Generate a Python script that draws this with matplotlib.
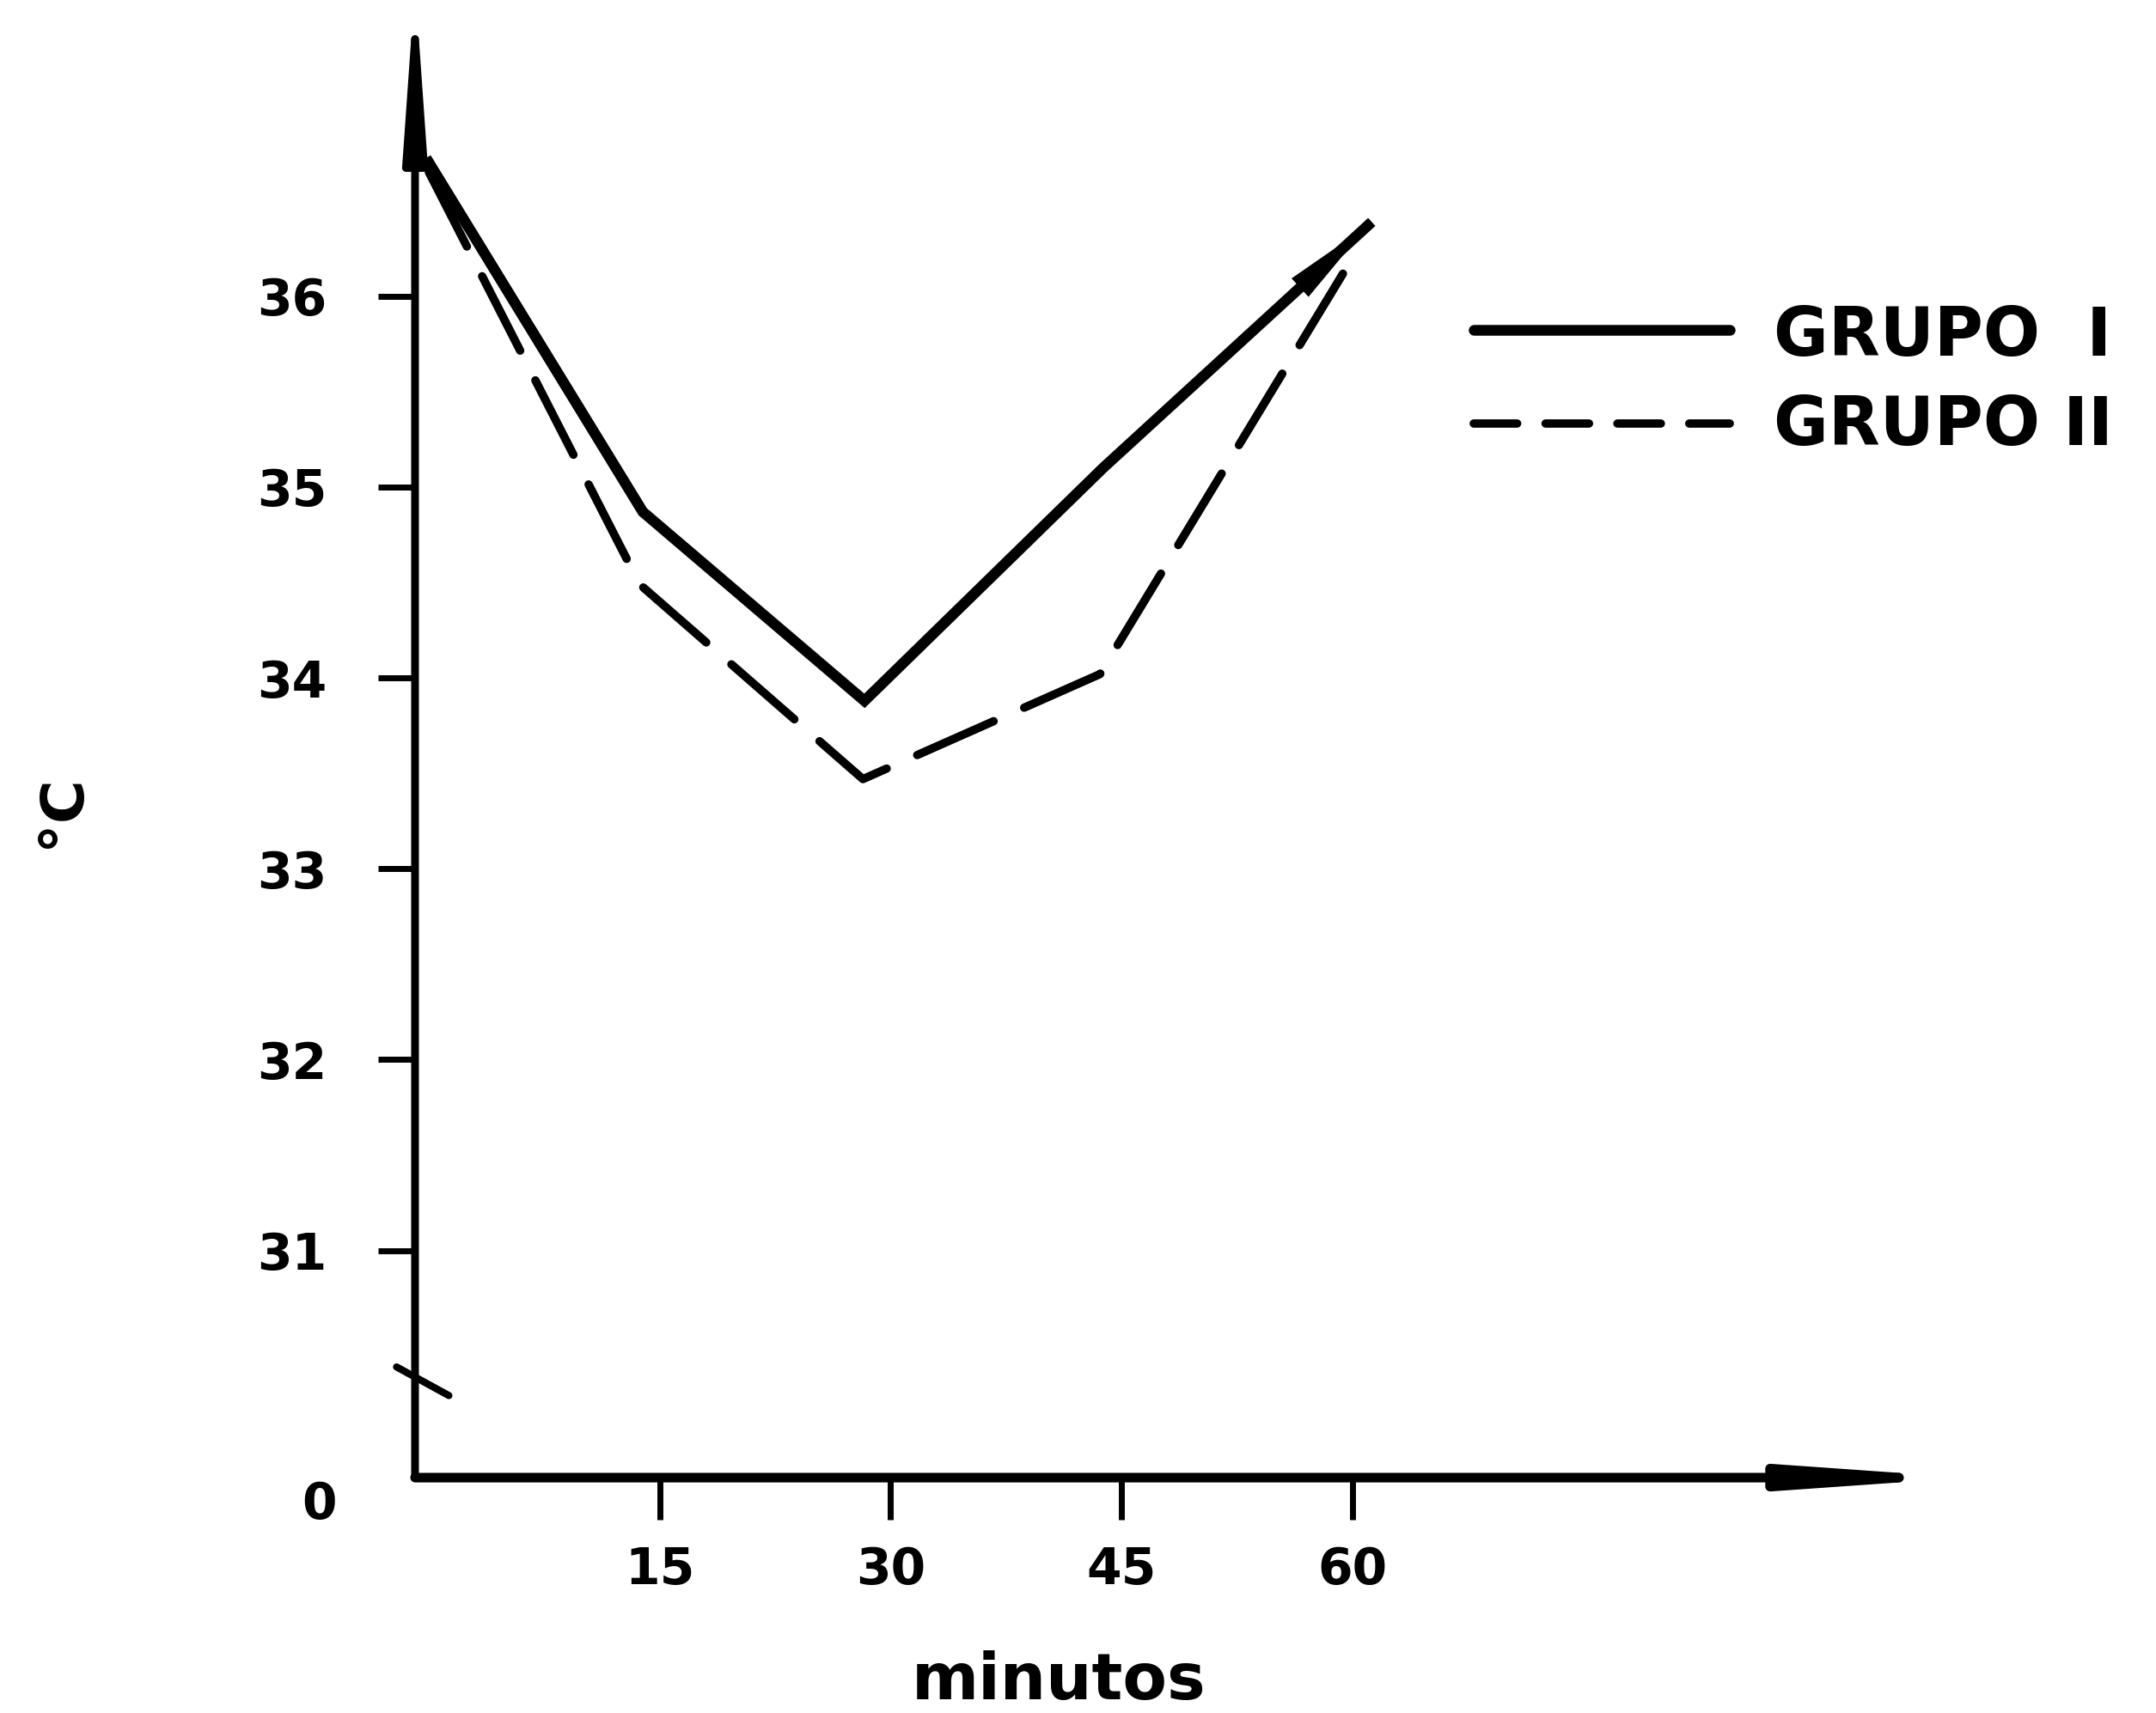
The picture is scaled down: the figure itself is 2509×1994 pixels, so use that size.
import matplotlib
matplotlib.use("Agg")
import matplotlib.pyplot as plt
from matplotlib.lines import Line2D

# ---- data ----
g1_minutes = [0, 13.9, 28.3, 43.8, 61.0]
g1_temp = [36.70, 34.87, 33.88, 35.10, 36.37]
g2_minutes = [0, 13.7, 28.2, 43.6, 59.4]
g2_temp = [36.65, 34.49, 33.47, 34.02, 36.12]

x_ticks = [15, 30, 45, 60]
x_tick_labels = ["15", "30", "45", "60"]
y_ticks = [31, 32, 33, 34, 35, 36]
y_tick_labels = ["31", "32", "33", "34", "35", "36"]
legend_labels = ["GRUPO  I", "GRUPO II"]
x_label = "minutos"
y_label = "°C"

# axis layout
X_MIN, X_MAX = -0.9, 95.4
Y_MIN, Y_MAX = 29.81, 37.35      # bottom of the broken axis stands for 0
BREAK_Y = 30.32

plt.rcParams['font.family'] = ['DejaVu Sans']
plt.rcParams['font.weight'] = 'bold'

fig = plt.figure(figsize=(25.09, 19.94), dpi=100)
ax = fig.add_axes([0.1925, 0.1374, 0.880 - 0.1925, 0.9775 - 0.1374])
ax.set_xlim(X_MIN, X_MAX)
ax.set_ylim(Y_MIN, Y_MAX)
for s in ax.spines.values():
    s.set_visible(False)

# axes with arrowheads
ax.annotate('', xy=(0, 1.038), xycoords='axes fraction', xytext=(0, 0),
            textcoords='axes fraction', annotation_clip=False,
            arrowprops=dict(arrowstyle='-|>,head_length=1.35,head_width=0.095',
                            lw=6.5, color='black', mutation_scale=80,
                            shrinkA=0, shrinkB=0))
ax.annotate('', xy=(1.047, 0), xycoords='axes fraction', xytext=(0, 0),
            textcoords='axes fraction', annotation_clip=False,
            arrowprops=dict(arrowstyle='-|>,head_length=1.35,head_width=0.095',
                            lw=8, color='black', mutation_scale=80,
                            shrinkA=0, shrinkB=0))

# axis break mark
ax.plot([X_MIN - 1.2, X_MIN + 2.2], [BREAK_Y + 0.07, BREAK_Y - 0.08],
        color='black', lw=6, solid_capstyle='round', clip_on=False)

# data lines
ax.plot(g1_minutes, g1_temp, color='black', lw=9, solid_joinstyle='miter',
        clip_on=False)
ax.plot(g2_minutes, g2_temp, color='black', lw=7, ls=(0, (10, 4)),
        dash_capstyle='round', clip_on=False)
ax.annotate('', xy=(g1_minutes[-1], g1_temp[-1]),
            xytext=(g1_minutes[-2], g1_temp[-2]),
            arrowprops=dict(arrowstyle='-|>,head_length=1.1,head_width=0.15',
                            lw=0, color='black', mutation_scale=70,
                            shrinkA=0, shrinkB=0))

# ticks
ax.set_xticks(x_ticks)
ax.set_xticklabels(x_tick_labels, fontsize=42, fontweight='bold')
ax.set_yticks(y_ticks)
ax.set_yticklabels(y_tick_labels, fontsize=42, fontweight='bold')
ax.tick_params(axis='x', direction='out', length=35, width=5, pad=22)
ax.tick_params(axis='y', direction='out', length=31, width=5, pad=43)
ax.text(-7.1, Y_MIN - 0.14, "0", fontsize=42, fontweight='bold',
        ha='center', va='center', clip_on=False)

# axis titles
fig.text(0.0287, 0.5266, y_label, rotation=90, fontsize=50,
         fontweight='bold', ha='center', va='center')
fig.text(0.491, 0.0, x_label, fontsize=54, fontweight='bold',
         ha='center', va='bottom')

# legend (drawn by hand to match the hand-lettered key)
fig.add_artist(Line2D([0.6836, 0.8022], [0.8074, 0.8074], color='black',
                      lw=9, solid_capstyle='round',
                      transform=fig.transFigure))
fig.add_artist(Line2D([0.6836, 0.8022], [0.7528, 0.7528], color='black',
                      lw=7, ls=(0, (5.2, 3.4)), dash_capstyle='round',
                      transform=fig.transFigure))
fig.text(0.8226, 0.8034, legend_labels[0], fontsize=56, fontweight='bold',
         ha='left', va='center')
fig.text(0.8226, 0.7512, legend_labels[1], fontsize=56, fontweight='bold',
         ha='left', va='center')

fig.savefig("out.png", dpi=100)
